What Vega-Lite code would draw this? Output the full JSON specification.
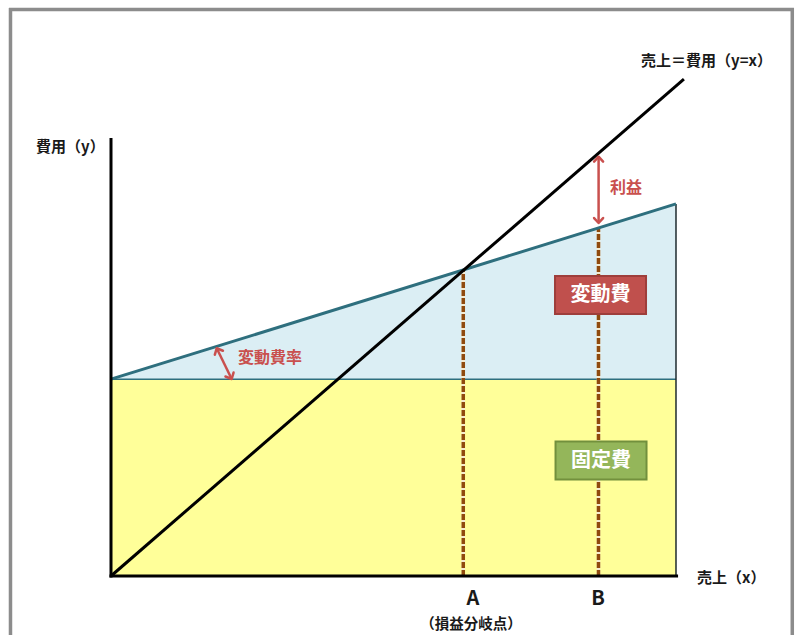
{
  "$schema": "https://vega.github.io/schema/vega-lite/v6.json",
  "width": 801,
  "height": 635,
  "autosize": {"type": "none"},
  "padding": 0,
  "background": "white",
  "config": {"view": {"stroke": null}, "axis": {"disable": true}},
  "datasets": {
    "frame": [
      {"x": -18.05, "x2": 120.88, "y": 115.71, "y2": 115.71},
      {"x": -17.79, "x2": -17.79, "y": 116.0, "y2": -13.1},
      {"x": 120.58, "x2": 120.58, "y": 116.0, "y2": -13.1}
    ],
    "fixed": [{"x": 0, "x2": 100, "y": 0, "y2": 40.2}],
    "variable": [
      {"x": 0, "y": 40.2, "base": 40.2},
      {"x": 100, "y": 76.0, "base": 40.2}
    ],
    "fixedLine": [{"x": 0, "x2": 100, "y": 40.2, "y2": 40.2}],
    "rightEdge": [{"x": 100, "x2": 100, "y": 0, "y2": 76.0}],
    "sales": [{"x": 0, "y": 0}, {"x": 101.4, "y": 101.5}],
    "drops": [
      {"point": "A", "x": 62.35, "x2": 62.35, "y": 0, "y2": 62.4},
      {"point": "B", "x": 86.28, "x2": 86.28, "y": 0, "y2": 71.1}
    ],
    "axes": [
      {"x": 0, "x2": 0, "y": 0, "y2": 89.15},
      {"x": 0, "x2": 100.1, "y": 0, "y2": 0}
    ],
    "arrows": [
      {"id": "profit", "x": 86.3, "y": 72.1, "x2": 86.3, "y2": 85.64},
      {"id": "rate", "x": 21.36, "y": 40.24, "x2": 18.71, "y2": 46.51}
    ],
    "heads": [
      {"id": "profit", "dir": "up", "x": 86.3, "y": 85.64},
      {"id": "profit", "dir": "down", "x": 86.3, "y": 72.1},
      {"id": "rate", "dir": "up", "x": 18.71, "y": 46.51},
      {"id": "rate", "dir": "down", "x": 21.36, "y": 40.24}
    ],
    "boxes": [
      {"kind": "variable", "text": "変動費", "x": 86.64, "y": 57.39},
      {"kind": "fixed", "text": "固定費", "x": 86.73, "y": 23.59}
    ],
    "labels": [
      {"role": "axis", "text": "費用（y）", "x": -13.27, "y": 87.62},
      {"role": "axis", "text": "売上（x）", "x": 103.72, "y": -0.41},
      {"role": "axis", "text": "売上＝費用（y=x）", "x": 93.81, "y": 105.19},
      {"role": "tick", "text": "A", "x": 64.07, "y": -4.7},
      {"role": "tick", "text": "B", "x": 86.19, "y": -4.7},
      {"role": "note", "text": "（損益分岐点）", "x": 63.72, "y": -9.91},
      {"role": "red", "text": "利益", "x": 88.32, "y": 79.25},
      {"role": "red", "text": "変動費率", "x": 22.48, "y": 44.53}
    ]
  },
  "encoding": {
    "x": {"field": "x", "type": "quantitative", "scale": {"domain": [-19.646, 122.124], "nice": false, "zero": false}},
    "y": {"field": "y", "type": "quantitative", "scale": {"domain": [-12.051, 117.647], "nice": false, "zero": false}}
  },
  "layer": [
    {
      "data": {"name": "fixed"},
      "mark": {"type": "rect", "fill": "#ffff99"},
      "encoding": {"x2": {"field": "x2"}, "y2": {"field": "y2"}}
    },
    {
      "data": {"name": "variable"},
      "mark": {"type": "area", "fill": "#dbeef4", "orient": "vertical"},
      "encoding": {"y2": {"field": "base"}}
    },
    {
      "data": {"name": "fixedLine"},
      "mark": {"type": "rule", "color": "#2e6f7e", "strokeWidth": 1.5},
      "encoding": {"x2": {"field": "x2"}, "y2": {"field": "y2"}}
    },
    {
      "data": {"name": "rightEdge"},
      "mark": {"type": "rule", "color": "#1e2a2e", "strokeWidth": 1.5},
      "encoding": {"x2": {"field": "x2"}, "y2": {"field": "y2"}}
    },
    {
      "data": {"name": "drops"},
      "mark": {"type": "rule", "color": "#f4ead0", "strokeWidth": 3.5},
      "encoding": {"x2": {"field": "x2"}, "y2": {"field": "y2"}}
    },
    {
      "data": {"name": "drops"},
      "mark": {"type": "rule", "color": "#8f4a0e", "strokeWidth": 3.5, "strokeDash": [6, 2]},
      "encoding": {"x2": {"field": "x2"}, "y2": {"field": "y2"}}
    },
    {
      "data": {"name": "variable"},
      "mark": {"type": "line", "color": "#2e6f7e", "strokeWidth": 3},
      "encoding": {}
    },
    {
      "data": {"name": "sales"},
      "mark": {"type": "line", "color": "#000000", "strokeWidth": 3},
      "encoding": {}
    },
    {
      "data": {"name": "axes"},
      "mark": {"type": "rule", "color": "#000000", "strokeWidth": 3, "strokeCap": "square"},
      "encoding": {"x2": {"field": "x2"}, "y2": {"field": "y2"}}
    },
    {
      "data": {"name": "frame"},
      "mark": {"type": "rule", "color": "#8c8c8c", "strokeWidth": 3.5},
      "encoding": {"x2": {"field": "x2"}, "y2": {"field": "y2"}}
    },
    {
      "data": {"name": "arrows"},
      "mark": {"type": "rule", "color": "#c9504e", "strokeWidth": 2.5},
      "encoding": {"x2": {"field": "x2"}, "y2": {"field": "y2"}}
    },
    {
      "data": {"name": "heads"},
      "mark": {"type": "point", "filled": false, "color": "#c9504e", "strokeWidth": 2.5, "strokeCap": "round", "strokeJoin": "round", "size": 81, "opacity": 1},
      "encoding": {
        "shape": {"condition": {"test": "datum.dir === 'up'", "value": "M-1,1.1L0,0L1,1.1"}, "value": "M-1,-1.1L0,0L1,-1.1"},
        "angle": {"condition": {"test": "datum.id === 'rate'", "value": -26}, "value": 0}
      }
    },
    {
      "data": {"name": "boxes"},
      "mark": {"type": "point", "filled": true, "shape": "M-1,-0.418H1V0.418H-1Z", "size": 8281, "strokeWidth": 2, "opacity": 1},
      "encoding": {
        "fill": {"condition": {"test": "datum.kind === 'variable'", "value": "#c0504d"}, "value": "#94b65a"},
        "stroke": {"condition": {"test": "datum.kind === 'variable'", "value": "#9e3e3b"}, "value": "#72903d"}
      }
    },
    {
      "data": {"name": "boxes"},
      "mark": {"type": "text", "font": "Noto Sans CJK JP", "fontWeight": "bold", "fontSize": 20, "color": "#ffffff", "align": "center", "baseline": "middle"},
      "encoding": {"text": {"field": "text"}}
    },
    {
      "data": {"name": "labels"},
      "transform": [{"filter": "datum.role === 'axis'"}],
      "mark": {"type": "text", "font": "Noto Sans CJK JP", "fontWeight": "bold", "fontSize": 15, "color": "#1a1a1a", "align": "left", "baseline": "middle"},
      "encoding": {"text": {"field": "text"}}
    },
    {
      "data": {"name": "labels"},
      "transform": [{"filter": "datum.role === 'tick'"}],
      "mark": {"type": "text", "font": "Noto Sans CJK JP", "fontWeight": "bold", "fontSize": 20, "color": "#1a1a1a", "align": "center", "baseline": "middle"},
      "encoding": {"text": {"field": "text"}}
    },
    {
      "data": {"name": "labels"},
      "transform": [{"filter": "datum.role === 'note'"}],
      "mark": {"type": "text", "font": "Noto Sans CJK JP", "fontWeight": "bold", "fontSize": 14.5, "color": "#1a1a1a", "align": "center", "baseline": "middle"},
      "encoding": {"text": {"field": "text"}}
    },
    {
      "data": {"name": "labels"},
      "transform": [{"filter": "datum.role === 'red'"}],
      "mark": {"type": "text", "font": "Noto Sans CJK JP", "fontWeight": "bold", "fontSize": 16, "color": "#c9504e", "align": "left", "baseline": "middle"},
      "encoding": {"text": {"field": "text"}}
    }
  ]
}
